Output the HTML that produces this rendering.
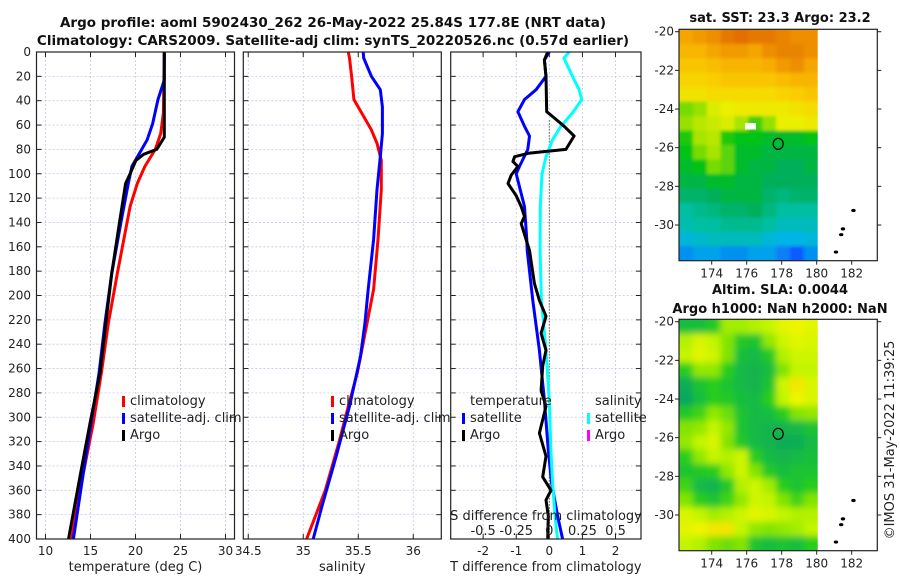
<!DOCTYPE html>
<html><head><meta charset="utf-8"><style>
body{margin:0;background:#fff;}
svg{display:block;font-family:"DejaVu Sans","Liberation Sans",sans-serif;}
</style></head><body>
<svg id="c" width="900" height="580" viewBox="0 0 900 580">
<defs>
<filter id="blur1" x="-5%" y="-5%" width="110%" height="110%"><feGaussianBlur stdDeviation="1.6"/></filter>
<filter id="blur2" x="-5%" y="-5%" width="110%" height="110%"><feGaussianBlur stdDeviation="3.5"/></filter>
<clipPath id="clip1"><rect x="679" y="29.3" width="138.7" height="231.4"/></clipPath>
<clipPath id="clip2"><rect x="679" y="319.3" width="138.7" height="231.4"/></clipPath>
</defs>
</svg>
<script>
// ---- data ----
const tDepthClim=[0,50,67,80,94,108,127,154,182,223,264,305,346,400];
const tClim=[23.2,23.1,22.8,22.2,21.05,20.2,19.4,18.7,17.98,16.98,16.2,15.3,14.2,12.9];
const tDepthSat=[0,23,39,59,72,85,94,108,141,182,223,264,305,346,400];
const tSat=[23.2,23.2,22.5,21.9,21.3,20.3,19.6,19.2,18.35,17.35,16.6,15.95,15.05,14.2,13.1];
const tDepthArgo=[0,70,80,84,89,100,108,141,182,223,264,305,346,400];
const tArgo=[23.2,23.2,22.35,20.9,20.05,19.4,18.9,18.2,17.35,16.7,16.05,14.95,13.9,12.55];
const sDepthClim=[0,5,20,39,53,64,75,89,113,154,195,237,264,291,319,360,400];
const sClim=[35.41,35.42,35.44,35.46,35.55,35.62,35.67,35.71,35.71,35.68,35.64,35.55,35.49,35.41,35.33,35.2,35.03];
const sDepthSat=[0,5,20,31,45,67,86,113,154,195,223,250,291,332,373,400];
const sSat=[35.545,35.55,35.62,35.70,35.72,35.72,35.70,35.67,35.64,35.59,35.56,35.52,35.42,35.30,35.17,35.09];
const dDepthBlue=[0,6.6,20,31,39,49,61,69,80,94,100,127,154,163,204,245,286,327,354,381,400];
const dTBlue=[0,-0.15,-0.1,-0.4,-0.75,-0.95,-0.75,-0.6,-0.65,-0.9,-1.0,-0.75,-0.68,-0.67,-0.5,-0.3,-0.15,-0.03,0.07,0.25,0.4];
const dDepthBlack=[0,6.6,20,49,53,61,69,80,83,86,90,94,101,108,118,127,135,141,163,190,204,217,231,245,258,278,291,313,332,349,360,368,381,400];
const dTBlack=[-0.05,-0.15,-0.1,-0.08,0.1,0.45,0.75,0.5,-0.6,-1.05,-1.1,-0.95,-1.15,-1.25,-1.0,-0.85,-0.75,-0.85,-0.6,-0.45,-0.3,-0.1,-0.25,-0.1,-0.2,-0.25,-0.1,-0.3,-0.1,-0.2,0.05,-0.1,-0.03,-0.05];
const dDepthCyan=[0,5,20,31,39,50,61,72,86,100,127,163,204,245,286,327,354,381,400];
const dSCyan=[0.15,0.11,0.175,0.225,0.245,0.175,0.0875,0.025,-0.025,-0.055,-0.068,-0.07,-0.06,-0.025,0,0.012,0.025,0.043,0.062];
const depthTicks=[0,20,40,60,80,100,120,140,160,180,200,220,240,260,280,300,320,340,360,380,400];
const tTicks=[10,15,20,25,30];
const sTicks=[34.5,35,35.5,36];
const dTTicks=[-2,-1,0,1,2];
const dSTicks=[-0.5,-0.25,0,0.25,0.5];
const lonTicks=[174,176,178,180,182];
const latTicks=[-20,-22,-24,-26,-28,-30];
const sst=[
[25,25.1,25.2,25.4,25.5,25.4,25.4,25.3,25.2,25.2],
[24.8,24.8,25,25.1,25.1,25,25.2,25.3,25.3,25.2],
[24.6,24.6,24.7,24.8,24.8,24.8,24.9,25.1,25.2,25.0],
[24.4,24.4,24.5,24.6,24.6,24.6,24.6,24.7,24.8,24.8],
[24.2,24.2,24.3,24.3,24.3,24.3,24.3,24.4,24.5,24.6],
[23.4,23.5,23.9,24.0,24.1,24.1,24.1,24.1,24.2,24.3],
[23.5,23.7,23.8,23.9,23.6,23.2,23.5,24.0,24.0,24.1],
[23.1,23.6,23.7,23.1,23.0,23.0,22.9,22.9,22.9,23.0],
[23.0,23.4,23.6,23.3,22.9,22.9,22.8,22.8,22.8,22.8],
[22.9,23.0,23.4,23.3,22.9,22.8,22.8,22.7,22.7,22.8],
[22.8,22.8,22.9,22.9,22.8,22.8,22.7,22.7,22.7,22.7],
[22.6,22.6,22.7,22.8,22.8,22.8,22.6,22.5,22.6,22.6],
[22.3,22.4,22.5,22.6,22.6,22.7,22.5,22.3,22.3,22.3],
[22.2,22.3,22.3,22.4,22.4,22.4,22.3,22.1,22.1,22.1],
[21.9,22.0,22.1,22.1,22.1,22.1,21.9,21.8,21.8,21.9],
[21.6,21.7,21.7,21.6,21.6,21.7,21.7,21.5,21.3,21.6]];
const sla=[
[-.5,-.5,-.3,.4,.4,.5,.6,.9,1,.9],
[.5,.8,.6,.2,-.3,-.4,.3,.7,.9,.8],
[.6,.9,.7,.2,-.5,-.6,-.3,.5,.7,.7],
[-.2,.3,.3,-.2,-.6,-.7,-.5,.2,.6,.6],
[-.8,-.4,-.2,-.4,-.6,-.7,-.4,.7,1.1,.8],
[-.9,-.5,-.2,-.3,-.5,-.6,-.2,.6,1,.8],
[-.3,-.1,.3,.1,-.4,-.6,-.5,-.2,.2,.3],
[.2,.3,.6,.3,-.4,-.6,-.7,-.7,-.6,-.4],
[.3,.6,.8,.2,-.3,-.6,-.7,-.8,-.8,-.6],
[-.2,.3,.6,.5,.7,-.2,-.6,-.7,-.6,-.5],
[-.4,-.3,-.2,.3,.7,.2,-.3,-.5,-.4,-.4],
[-.1,-.6,-.7,-.3,.5,.7,.4,-.2,-.4,-.2],
[.2,-.2,-.4,-.1,.3,.7,.6,.2,-.1,.2],
[.8,.6,.4,.5,.7,.9,.8,.6,.5,.5],
[.9,1,1.1,1.1,.6,.3,.2,.3,.4,.6],
[.6,.5,.2,.1,.2,-.4,-.5,-.4,-.5,-.2]];
const islandLon=[182.1,181.5,181.4,181.1];
const islandLat=[-29.25,-30.2,-30.5,-31.4];
const argoLon=177.8, argoLat=-25.8;

// ---- helpers ----
const NS="http://www.w3.org/2000/svg", svg=document.getElementById('c');
function mk(tag,attrs,parent){const e=document.createElementNS(NS,tag);for(const k in attrs)e.setAttribute(k,attrs[k]);(parent||svg).appendChild(e);return e;}
function txt(x,y,s,attrs){const e=mk('text',Object.assign({x:x,y:y,'font-size':12,fill:'#222'},attrs||{}));e.textContent=s;return e;}
const Y0=52,Y1=539;
const yD=d=>Y0+d*(Y1-Y0)/400;
function panel(name,x0,x1,xmin,xmax,xticks,xlab,xfmt){
  const xs=v=>x0+(v-xmin)*(x1-x0)/(xmax-xmin);
  const g=mk('g',{});
  
  
  depthTicks.forEach(d=>{mk('line',{x1:x0,x2:x1,y1:yD(d),y2:yD(d),stroke:'#c4c8e6','stroke-width':0.8,'stroke-dasharray':'2,2'},g);});
  xticks.forEach(v=>{mk('line',{x1:xs(v),x2:xs(v),y1:Y0,y2:Y1,stroke:'#c4c8e6','stroke-width':0.8,'stroke-dasharray':'2,2'},g);});
  depthTicks.forEach(d=>{mk('line',{x1:x0,x2:x0+5,y1:yD(d),y2:yD(d),stroke:'#222'},g);mk('line',{x1:x1-5,x2:x1,y1:yD(d),y2:yD(d),stroke:'#222'},g);});
  xticks.forEach(v=>{
    mk('line',{x1:xs(v),x2:xs(v),y1:Y1,y2:Y1-5,stroke:'#222'},g);mk('line',{x1:xs(v),x2:xs(v),y1:Y0,y2:Y0+5,stroke:'#222'},g);
    const t=txt(xs(v),555,xfmt?xfmt(v):String(v),{'text-anchor':'middle'});
    
    
  });
  const l=txt((x0+x1)/2,571,xlab,{'text-anchor':'middle','font-size':13});
  
  
  return {g,xs};
}
function line(p,xs,vals,depths,color,name,w){
  const pts=vals.map((v,i)=>xs(v).toFixed(1)+','+yD(depths[i]).toFixed(1)).join(' ');
  const e=mk('polyline',{points:pts,fill:'none',stroke:color,'stroke-width':w||3,'stroke-linejoin':'round'});
  
  
}
function box(x0,x1,y0,y1){mk('rect',{x:x0,y:y0,width:x1-x0,height:y1-y0,fill:'none',stroke:'#222','stroke-width':1.2});}
function legItem(x,y,color,label,name){
  const r=mk('rect',{x:x,y:y-9,width:3,height:11,fill:color});
  
  
  const t=txt(x+8,y,label,{'font-size':13});
  
  
}

// titles
let t=txt(333,27,'Argo profile: aoml 5902430_262 26-May-2022 25.84S 177.8E (NRT data)',{'text-anchor':'middle','font-weight':'bold','font-size':13.5,fill:'#111'});


t=txt(333,45,'Climatology: CARS2009. Satellite-adj clim: synTS_20220526.nc (0.57d earlier)',{'text-anchor':'middle','font-weight':'bold','font-size':13.5,fill:'#111'});



// panel 1
const p1=panel('temperature-panel',36.5,234.5,9,31,tTicks,'temperature (deg C)');
depthTicks.forEach(d=>{const l=txt(31,yD(d)+4,String(d),{'text-anchor':'end'});});
line(p1,p1.xs,tClim,tDepthClim,'#f00','temp-climatology-line');
line(p1,p1.xs,tSat,tDepthSat,'#00f','temp-satellite-line');
line(p1,p1.xs,tArgo,tDepthArgo,'#000','temp-argo-line');
box(36.5,234.5,Y0,Y1);
legItem(122,405,'#f00','climatology','legend-climatology');
legItem(122,422,'#00f','satellite-adj. clim','legend-satellite');
legItem(122,439,'#000','Argo','legend-argo');

// panel 2
const p2=panel('salinity-panel',243.3,441.3,34.455,36.255,sTicks,'salinity');
line(p2,p2.xs,sClim,sDepthClim,'#f00','sal-climatology-line');
line(p2,p2.xs,sSat,sDepthSat,'#00f','sal-satellite-line');
box(243.3,441.3,Y0,Y1);
legItem(331,405,'#f00','climatology','legend2-climatology');
legItem(331,422,'#00f','satellite-adj. clim','legend2-satellite');
legItem(331,439,'#000','Argo','legend2-argo');

// panel 3
const p3=panel('difference-panel',450.7,641,-2.98,2.77,dTTicks,'T difference from climatology');
const xsS=v=>p3.xs(v*4);
let z=mk('line',{x1:p3.xs(0),x2:p3.xs(0),y1:yD(56),y2:Y1,stroke:'#556b2f','stroke-width':1,'stroke-dasharray':'1.5,1.5'});


line(p3,p3.xs,dTBlue,dDepthBlue,'#00f','t-diff-satellite-line');
line(p3,xsS,dSCyan,dDepthCyan,'#0ff','s-diff-satellite-line');
line(p3,p3.xs,dTBlack,dDepthBlack,'#000','t-diff-argo-line');
box(450.7,641,Y0,Y1);
t=txt(546,520,'S difference from climatology',{'text-anchor':'middle','font-size':13});


dSTicks.forEach(v=>{const l=txt(xsS(v),535,String(v),{'text-anchor':'middle','font-size':13});});
t=txt(470,405,'temperature',{'font-size':13});


t=txt(595,405,'salinity',{'font-size':13});


legItem(462,422,'#00f','satellite','legend3-t-satellite');
legItem(462,439,'#000','Argo','legend3-t-argo');
legItem(587,422,'#0ff','satellite','legend3-s-satellite');
legItem(587,439,'#f0f','Argo','legend3-s-argo');

// maps
function lerpColor(stops,v){
  if(v<=stops[0][0])return 'rgb('+stops[0][1].join(',')+')';
  for(let i=1;i<stops.length;i++){if(v<=stops[i][0]){const a=stops[i-1],b=stops[i],f=(v-a[0])/(b[0]-a[0]);
    return 'rgb('+[0,1,2].map(k=>Math.round(a[1][k]+f*(b[1][k]-a[1][k]))).join(',')+')';}}
  const s=stops[stops.length-1][1];return 'rgb('+s.join(',')+')';
}
const sstStops=[[21.3,[16,90,255]],[21.8,[0,180,230]],[22.3,[0,190,160]],[22.7,[0,175,90]],[23.0,[0,195,20]],[23.5,[150,225,0]],[24.0,[235,240,0]],[24.5,[250,205,0]],[25.0,[245,165,0]],[25.5,[225,110,0]]];
const slaStops=[[-1,[10,160,100]],[-0.6,[20,185,70]],[-0.2,[40,205,30]],[0.2,[130,228,0]],[0.6,[195,245,0]],[1.0,[238,245,0]],[1.2,[248,215,0]]];
function map(name,y0,y1,latTopPx,lat30Px,grid,stops,titles,clipId,filterId){
  const x0=679,xd=817.7,x1=877.3;
  const lonX=l=>711.7+(l-174)*17.5;
  const latY=l=>latTopPx+(-20-l)*(lat30Px-latTopPx)/10;
  const g=mk('g',{});
  
  
  const cg=mk('g',{'clip-path':'url(#'+clipId+')'},g);
  const fg=mk('g',{filter:'url(#'+filterId+')'},cg);
  const rows=grid.length,cols=grid[0].length,ch=(y1-y0)/rows,cw=(xd-x0)/cols;
  grid.forEach((row,r)=>row.forEach((v,c)=>{
    let xx=x0+c*cw, yy=y0+r*ch, ww=cw+0.5, hh=ch+0.5;
    if(c===0){xx-=8;ww+=8;} if(c===cols-1){ww+=8;} if(r===0){yy-=8;hh+=8;} if(r===rows-1){hh+=8;}
    const cell=mk('rect',{x:xx.toFixed(2),y:yy.toFixed(2),width:ww.toFixed(2),height:hh.toFixed(2),fill:lerpColor(stops,v)},fg);
    
    
  }));
  islandLon.forEach((l,i)=>{const d=mk('ellipse',{cx:lonX(l),cy:latY(islandLat[i]),rx:2.2,ry:1.6,fill:'#000'},g);});
  const c=mk('ellipse',{cx:lonX(argoLon),cy:latY(argoLat),rx:5,ry:5.5,fill:'none',stroke:'#000','stroke-width':1.2},g);
  
  
  mk('rect',{x:x0,y:y0,width:x1-x0,height:y1-y0,fill:'none',stroke:'#222','stroke-width':1.2},g);
  latTicks.forEach(l=>{const y=latY(l);mk('line',{x1:x0-4,x2:x0,y1:y,y2:y,stroke:'#222'},g);mk('line',{x1:x1,x2:x1+4,y1:y,y2:y,stroke:'#222'},g);
    const tl=txt(x0-5,y+4,String(l),{'text-anchor':'end'});});
  lonTicks.forEach(l=>{const x=lonX(l);mk('line',{x1:x,x2:x,y1:y1,y2:y1+4,stroke:'#222'},g);
    const tl=txt(x,y1+17,String(l),{'text-anchor':'middle'});});
  titles.forEach(s=>{const tt=txt(780,s[1],s[0],{'text-anchor':'middle','font-weight':'bold','font-size':13,fill:'#111'});});
  return {lonX,latY};
}
map('sst-map',29.3,260.7,31.7,225,sst,sstStops,[['sat. SST: 23.3 Argo: 23.2',22]],'clip1','blur1');
const wp=mk('rect',{x:745,y:123,width:11,height:6.5,fill:'#fff'});


map('sla-map',319.3,550.7,321.7,515,sla,slaStops,[['Altim. SLA: 0.0044',294],['Argo h1000: NaN h2000: NaN',313]],'clip2','blur2');
t=txt(0,0,'©IMOS 31-May-2022 11:39:25',{'text-anchor':'middle','font-size':13,transform:'translate(894,440) rotate(-90)'});


</script>
</body></html>
